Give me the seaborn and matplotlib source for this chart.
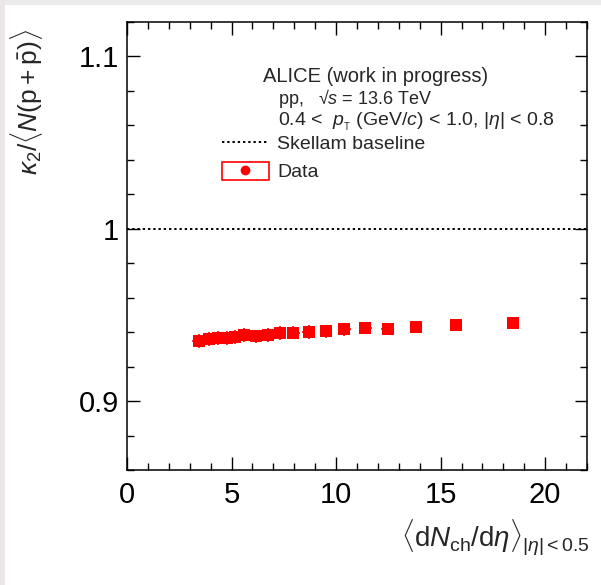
import numpy as np
import pandas as pd
import matplotlib
matplotlib.use("Agg")
import matplotlib.pyplot as plt
from matplotlib.lines import Line2D
from matplotlib.patches import Rectangle
from matplotlib.legend_handler import HandlerTuple
import seaborn as sns

# data
dndeta = [3.43, 3.91, 4.34, 4.77, 5.18, 5.61, 6.17, 6.73, 7.32, 7.96,
          8.69, 9.52, 10.40, 11.40, 12.47, 13.83, 15.74, 18.45]
ratio = [0.9349, 0.9358, 0.9364, 0.9364, 0.9374, 0.9383, 0.9375, 0.9383, 0.9397, 0.9397,
         0.9401, 0.9406, 0.9416, 0.9425, 0.9420, 0.9429, 0.9444, 0.9454]
ratio_err = [0.0040, 0.0040, 0.0040, 0.0040, 0.0040, 0.0040, 0.0040, 0.0040, 0.0040, 0.0038,
             0.0038, 0.0038, 0.0036, 0.0035, 0.0032, 0.0028, 0.0025, 0.0020]
skellam = 1.0

df = pd.DataFrame({"x": dndeta, "y": ratio, "yerr": ratio_err})

sns.set_theme(style="ticks")
plt.rcParams["font.family"] = ["Liberation Sans", "DejaVu Sans"]
plt.rcParams["mathtext.fontset"] = "custom"
plt.rcParams["mathtext.rm"] = "Liberation Sans"
plt.rcParams["mathtext.it"] = "Liberation Sans:italic"
plt.rcParams["mathtext.bf"] = "Liberation Sans:bold"

W, H = 601, 585
fig = plt.figure(figsize=(W / 100, H / 100), dpi=100)
ax = fig.add_axes([127 / W, (H - 470) / H, 460 / W, 448 / H])

red = "#ff0000"
ax.errorbar(df["x"], df["y"], yerr=df["yerr"], xerr=0.3, fmt="none",
            ecolor=red, elinewidth=1.2, capsize=0, zorder=3)
sns.scatterplot(data=df, x="x", y="y", marker="s", s=72, color=red,
                linewidth=0, ax=ax, zorder=4, legend=False)

ax.axhline(skellam, color="black", linestyle=(0, (1.2, 1.5)), linewidth=1.4, zorder=2)

ax.set_xlim(0, 22)
ax.set_ylim(0.8615, 1.119)
ax.set_xticks([0, 5, 10, 15, 20])
ax.set_xticks(np.arange(0, 22.01, 1), minor=True)
ax.set_yticks([0.9, 1.0, 1.1])
ax.set_yticklabels(["0.9", "1", "1.1"])
ax.set_yticks(np.arange(0.86, 1.12, 0.02), minor=True)

ax.tick_params(which="both", direction="in", top=True, right=True, width=1.0, colors="black")
ax.tick_params(which="major", length=9.5, labelsize=21, pad=8)
ax.tick_params(axis="y", which="major", length=9, pad=6)
ax.tick_params(which="minor", length=5)
for sp in ax.spines.values():
    sp.set_linewidth(1.1)
    sp.set_color("black")

ax.set_ylabel(r"$\kappa_{2}/\langle N(\mathrm{p}+\bar{\mathrm{p}})\rangle$", fontsize=19, loc="top")
ax.yaxis.set_label_coords(-0.178, 0.985)
ax.set_xlabel(r"$\langle \mathrm{d}N_{\mathrm{ch}}/\mathrm{d}\eta\rangle_{|\eta|<0.5}$", fontsize=20, loc="right")
ax.xaxis.set_label_coords(1.006, -0.108)

def px(x, y):
    return ((x - 127) / 460, (470 - y) / 448)

ax.text(*px(263, 76), "ALICE (work in progress)", transform=ax.transAxes,
        fontsize=14.5, va="center", ha="left")
ax.text(*px(278, 98), "pp,   \u221a$s$ = 13.6 TeV", transform=ax.transAxes,
        fontsize=13, va="center", ha="left")
ax.text(*px(278, 122), r"0.4 <  $p_{_{\mathrm{T}}}$ (GeV/$c$) < 1.0, $|\eta|$ < 0.8",
        transform=ax.transAxes, fontsize=14, va="center", ha="left")

h_line = Line2D([], [], color="black", linestyle=(0, (1.2, 1.5)), linewidth=1.4)
h_box = Rectangle((0, 0), 1, 1, facecolor="none", edgecolor=red, linewidth=1.2)
h_dot = Line2D([], [], marker="o", color=red, linestyle="none", markersize=6)
leg = ax.legend([h_line, (h_box, h_dot)], ["Skellam baseline", "Data"],
                handler_map={tuple: HandlerTuple(ndivide=1, pad=0)},
                loc="upper left", bbox_to_anchor=px(222, 134), frameon=False,
                fontsize=14, handlelength=2.4, handleheight=1.0, handletextpad=0.45,
                labelspacing=0.45, borderpad=0, borderaxespad=0)

# light screenshot frame at top and left
fig.patches.append(Rectangle((0, 1 - 5 / H), 1, 5 / H, transform=fig.transFigure,
                             facecolor="#ebebeb", edgecolor="none", zorder=-1))
fig.patches.append(Rectangle((0, 0), 5 / W, 1, transform=fig.transFigure,
                             facecolor="#ebe6e9", edgecolor="none", zorder=-1))

fig.savefig("out.png", dpi=100)
